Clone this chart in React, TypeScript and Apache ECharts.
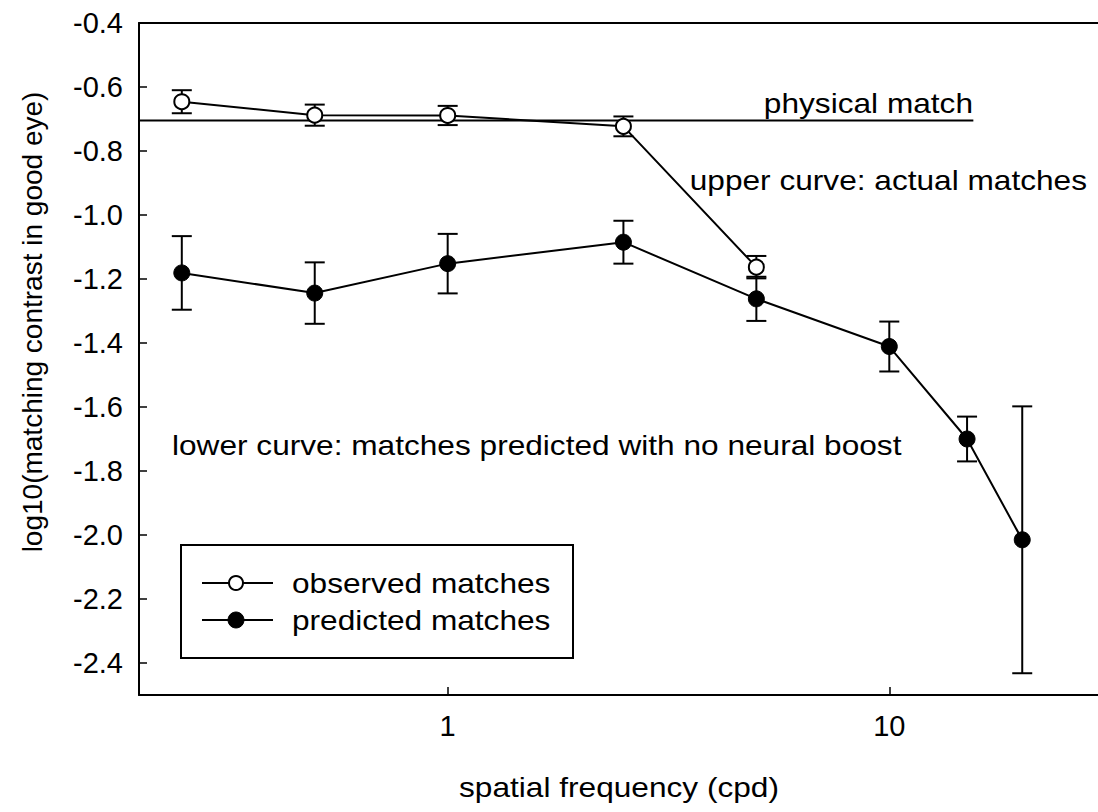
import React, { useEffect, useRef } from "react";
import * as echarts from "echarts";

// Spatial frequencies (cpd) and log10 matching contrast values
const freqObserved = [0.25, 0.5, 1, 2.5, 5];
const observed = [-0.646, -0.688, -0.689, -0.723, -1.163];
const observedErr = [0.036, 0.033, 0.03, 0.031, 0.035];

const freqPredicted = [0.25, 0.5, 1, 2.5, 5, 10, 15, 20];
const predicted = [-1.181, -1.244, -1.152, -1.085, -1.262, -1.411, -1.7, -2.015];
const predictedErr = [0.115, 0.096, 0.093, 0.067, 0.069, 0.078, 0.07, 0.417];

// Physical match reference level and its extent along the frequency axis
const physicalLevel = -0.705;
const physicalRange = [0.2, 15.5];

const xTicks = [1, 10];
const yTicks = [-2.4, -2.2, -2.0, -1.8, -1.6, -1.4, -1.2, -1.0, -0.8, -0.6, -0.4];

const FONT = "Liberation Sans";
const STRETCH = 1.13;

function errorBarSeries(xs: number[], ys: number[], errs: number[]) {
  return {
    type: "custom",
    z: 1,
    data: xs.map((x, i) => [x, ys[i] - errs[i], ys[i] + errs[i]]),
    encode: { x: 0, y: [1, 2] },
    renderItem: (_params: any, api: any) => {
      const x = api.value(0);
      const lo = api.value(1);
      const hi = api.value(2);
      const top = api.coord([x, hi]);
      const bot = api.coord([x, lo]);
      const w = 10;
      const style = { stroke: "#000", lineWidth: 2 };
      return {
        type: "group",
        children: [
          { type: "line", shape: { x1: top[0], y1: top[1], x2: bot[0], y2: bot[1] }, style },
          { type: "line", shape: { x1: top[0] - w, y1: top[1], x2: top[0] + w, y2: top[1] }, style },
          { type: "line", shape: { x1: bot[0] - w, y1: bot[1], x2: bot[0] + w, y2: bot[1] }, style },
        ],
      };
    },
  };
}

function label(text: string, x: number, y: number, align: string, extra: any = {}) {
  return {
    type: "text",
    x,
    y,
    scaleX: STRETCH,
    z: 10,
    style: {
      text,
      fill: "#000",
      font: `28px "${FONT}"`,
      align,
      verticalAlign: "middle",
    },
    ...extra,
  };
}

export default function App() {
  const ref = useRef<HTMLDivElement>(null);

  useEffect(() => {
    if (!ref.current) return;
    const chart = echarts.init(ref.current, undefined, { renderer: "svg" });

    const axisLine = { show: true, lineStyle: { color: "#000", width: 2 } };

    chart.setOption({
      animation: false,
      backgroundColor: "#fff",
      grid: {
        left: 139,
        top: 23,
        right: -2,
        bottom: 117,
        containLabel: false,
        outerBoundsMode: "none",
      },
      xAxis: [
        {
          type: "log",
          min: 0.2,
          max: 30,
          position: "bottom",
          axisLine,
          axisTick: {
            show: true,
            inside: true,
            length: 8,
            lineStyle: { color: "#000", width: 1.5 },
            customValues: xTicks,
          },
          minorTick: { show: false },
          axisLabel: {
            customValues: xTicks,
            margin: 16,
            color: "#000",
            fontFamily: FONT,
            fontSize: 29,
            formatter: (v: number) => String(Math.round(v)),
          },
          splitLine: { show: false },
        },
        {
          type: "log",
          min: 0.2,
          max: 30,
          position: "top",
          axisLine,
          axisTick: { show: false },
          axisLabel: { show: false },
          splitLine: { show: false },
        },
      ],
      yAxis: {
        type: "value",
        min: -2.5,
        max: -0.4,
        axisLine,
        axisTick: {
          show: true,
          inside: true,
          length: 8,
          lineStyle: { color: "#000", width: 1.5 },
          customValues: yTicks,
        },
        axisLabel: {
          customValues: yTicks,
          margin: 16,
          color: "#000",
          fontFamily: FONT,
          fontSize: 29,
          formatter: (v: number) => v.toFixed(1),
        },
        splitLine: { show: false },
      },
      series: [
        {
          name: "physical match",
          type: "line",
          z: 2,
          showSymbol: false,
          symbol: "none",
          data: physicalRange.map((x) => [x, physicalLevel]),
          lineStyle: { color: "#000", width: 2 },
        },
        errorBarSeries(freqObserved, observed, observedErr),
        errorBarSeries(freqPredicted, predicted, predictedErr),
        {
          name: "observed matches",
          type: "line",
          z: 3,
          data: freqObserved.map((x, i) => [x, observed[i]]),
          symbol: "circle",
          symbolSize: 15,
          itemStyle: { color: "#fff", borderColor: "#000", borderWidth: 2 },
          lineStyle: { color: "#000", width: 2 },
        },
        {
          name: "predicted matches",
          type: "line",
          z: 3,
          data: freqPredicted.map((x, i) => [x, predicted[i]]),
          symbol: "circle",
          symbolSize: 16,
          itemStyle: { color: "#000", borderColor: "#000", borderWidth: 1 },
          lineStyle: { color: "#000", width: 2 },
        },
      ],
      graphic: [
        label("physical match", 973, 103, "right"),
        label("upper curve: actual matches", 1087, 180, "right"),
        label("lower curve: matches predicted with no neural boost", 172, 445, "left"),
        label("spatial frequency (cpd)", 619, 787, "center"),
        {
          type: "text",
          x: 32,
          y: 322,
          rotation: Math.PI / 2,
          style: {
            text: "log10(matching contrast in good eye)",
            fill: "#000",
            font: `28px "${FONT}"`,
            align: "center",
            verticalAlign: "middle",
          },
        },
        // legend box
        {
          type: "group",
          z: 10,
          children: [
            {
              type: "rect",
              shape: { x: 181, y: 545, width: 392, height: 113 },
              style: { fill: "#fff", stroke: "#000", lineWidth: 2 },
            },
            { type: "line", shape: { x1: 202, y1: 583, x2: 273, y2: 583 }, style: { stroke: "#000", lineWidth: 2 } },
            { type: "circle", shape: { cx: 236, cy: 583, r: 7 }, style: { fill: "#fff", stroke: "#000", lineWidth: 2 } },
            { type: "line", shape: { x1: 202, y1: 620, x2: 273, y2: 620 }, style: { stroke: "#000", lineWidth: 2 } },
            { type: "circle", shape: { cx: 236, cy: 620, r: 8 }, style: { fill: "#000", stroke: "#000", lineWidth: 1 } },
            label("observed matches", 292, 583, "left"),
            label("predicted matches", 292, 620, "left"),
          ],
        },
      ],
    });

    return () => chart.dispose();
  }, []);

  return (
    <div
      ref={ref}
      style={{ position: "absolute", left: 0, top: 0, width: 1098, height: 812, background: "#fff" }}
    />
  );
}
